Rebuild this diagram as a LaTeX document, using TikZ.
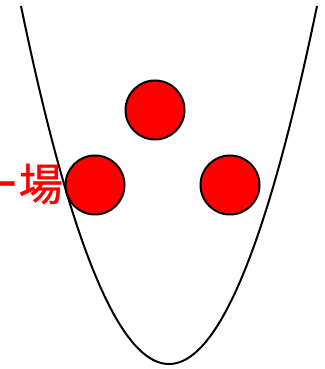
\documentclass[tikz,border=0pt]{standalone}
\usepackage{fontspec}
\newfontfamily\jpfont[FakeBold=1]{Noto Sans CJK JP}

\begin{document}
\begin{tikzpicture}[x=1pt,y=1pt]
\useasboundingbox (0,0) rectangle (324,369);
\clip (0,0) rectangle (324,369);
\draw[line width=2pt, domain=21:317, samples=120, smooth] plot (\x, {5+0.01634*(\x-169)*(\x-169)});
\node[draw, circle, line width=2pt, fill=red, minimum size=59pt, inner sep=0pt] (top) at (155,259) {};
\node[draw, circle, line width=2pt, fill=red, minimum size=59pt, inner sep=0pt] (left) at (95,184) {};
\node[draw, circle, line width=2pt, fill=red, minimum size=59pt, inner sep=0pt] (right) at (230,184) {};
\node[anchor=east, inner sep=0pt, text=red, font=\jpfont\fontsize{44}{44}\selectfont] (label) at (63,185) {ー場};
\end{tikzpicture}
\end{document}
